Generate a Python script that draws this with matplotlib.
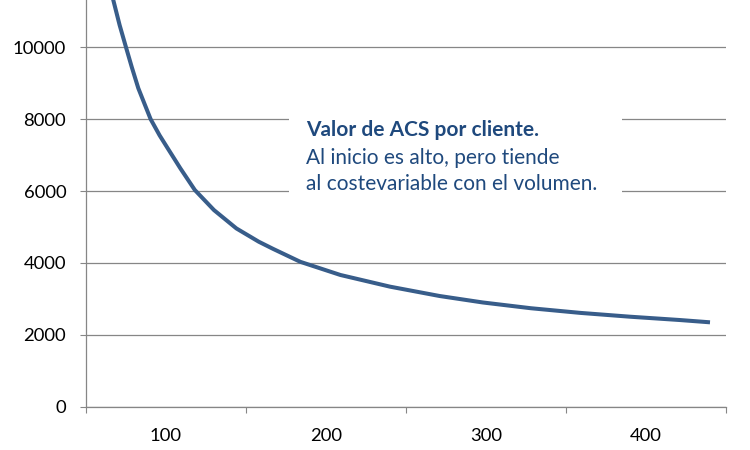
import matplotlib.pyplot as plt
from matplotlib.patches import Rectangle

# puntos (volumen de clientes vs valor de ACS por cliente)
volumen = [64, 71, 75, 78.6, 82.7, 86.9, 90.4, 96, 100.5, 109, 118, 130, 144, 158, 167,
           184, 209, 240, 271, 298, 328, 359, 390, 421, 440]
acs = [11850, 10620, 10000, 9450, 8860, 8390, 8000, 7550, 7230, 6630, 6030, 5470, 4960, 4590, 4390,
       4030, 3665, 3340, 3080, 2900, 2740, 2610, 2504, 2412, 2348]

y_ticks = [0, 2000, 4000, 6000, 8000, 10000]
x_labels = [100, 200, 300, 400]
x_marks = [50, 150, 250, 350, 450]

titulo = 'Valor de ACS por cliente.'
linea2 = 'Al inicio es alto, pero tiende'
linea3 = 'al costevariable con el volumen.'

plt.rcParams['font.family'] = ['Lato', 'DejaVu Sans']
gris = '#868686'
azul_texto = '#1F497D'

fig = plt.figure(figsize=(7.5, 4.5), dpi=100)
ax = fig.add_axes([86 / 750, 1 - 406.7 / 450, 640 / 750, 406.7 / 450])

ax.plot(volumen, acs, color='#385D8A', lw=2.9, solid_capstyle='butt', solid_joinstyle='round', zorder=5)

ax.set_xlim(50, 450)
ax.set_ylim(0, 11316)
ax.set_yticks(y_ticks)
ax.set_yticklabels([str(v) for v in y_ticks])
ax.set_xticks(x_labels)
ax.set_xticklabels([str(v) for v in x_labels])
ax.set_xticks(x_marks, minor=True)

ax.tick_params(axis='y', length=4.3, width=0.8, color=gris, pad=10, labelsize=13.3, labelcolor='black')
ax.tick_params(axis='x', which='major', length=0, pad=15, labelsize=13.3, labelcolor='black')
ax.tick_params(axis='x', which='minor', length=4.3, width=0.8, color=gris)

ax.grid(axis='y', color=gris, lw=0.9)
ax.set_axisbelow(True)
for s in ['top', 'right']:
    ax.spines[s].set_visible(False)
for s in ['left', 'bottom']:
    ax.spines[s].set_color(gris)
    ax.spines[s].set_linewidth(0.9)

# recuadro blanco del comentario
fig.add_artist(Rectangle((289 / 750, 1 - 212 / 450), 333 / 750, 110 / 450,
                         transform=fig.transFigure, facecolor='white', edgecolor='none', zorder=3))

x0 = 306 / 750
fig.text(x0, 1 - 136.5 / 450, titulo, fontsize=15, fontweight='bold', color=azul_texto, va='baseline', zorder=6)
fig.text(x0, 1 - 163.5 / 450, linea2, fontsize=15, color=azul_texto, va='baseline', zorder=6)
fig.text(x0, 1 - 190.5 / 450, linea3, fontsize=15, color=azul_texto, va='baseline', zorder=6)

fig.savefig('out.png', dpi=100)
